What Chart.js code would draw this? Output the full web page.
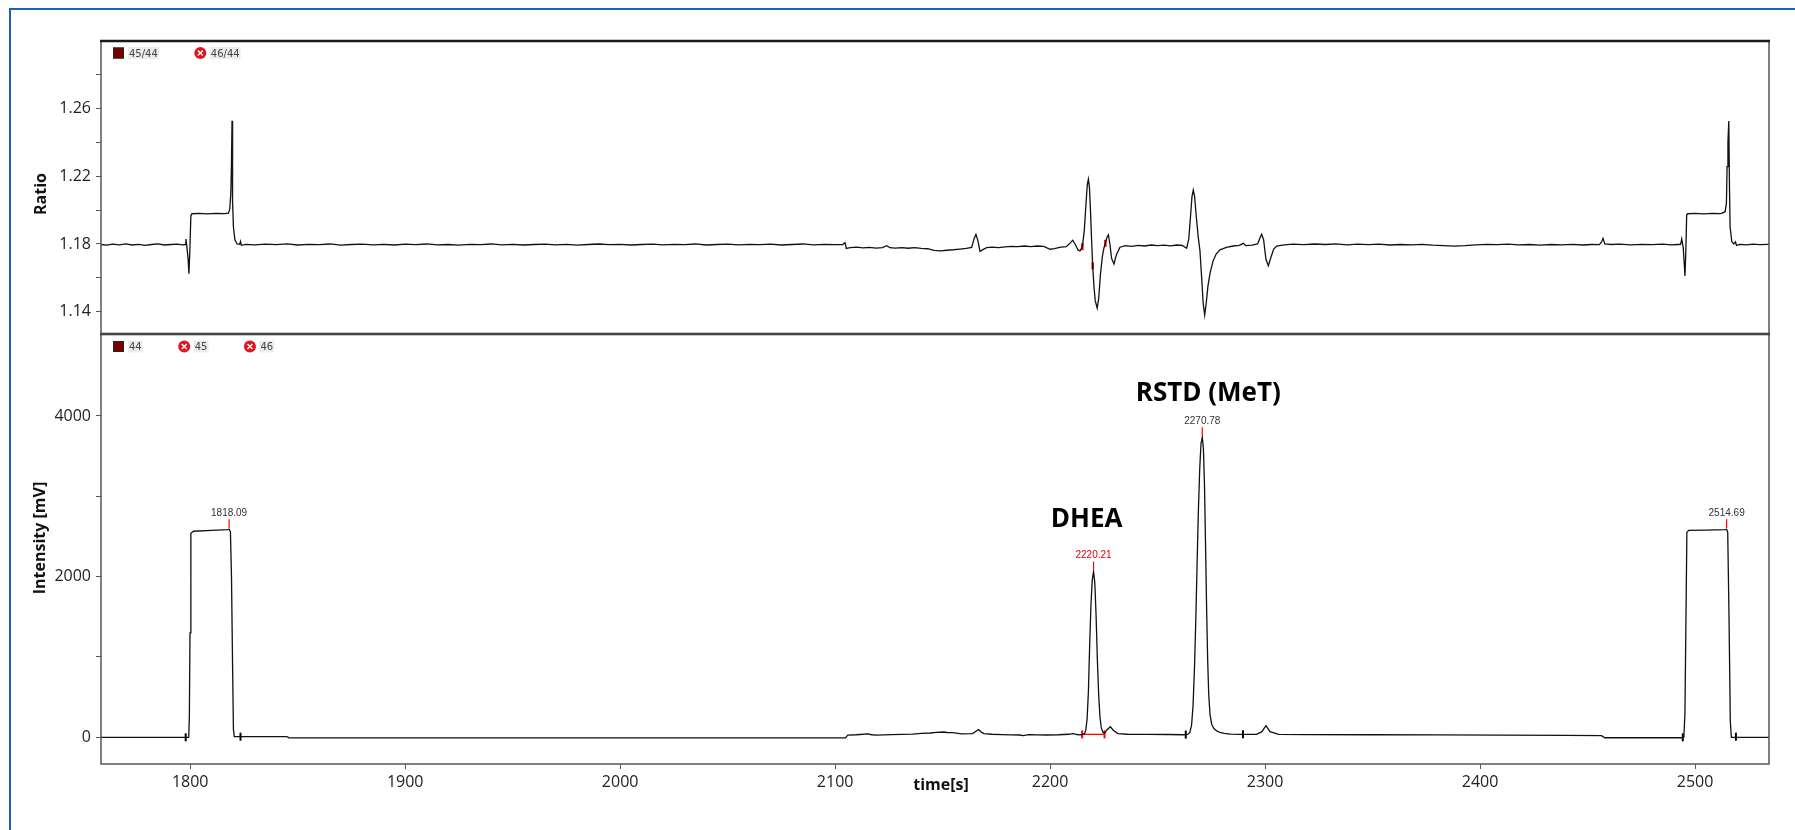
<!DOCTYPE html>
<html>
<head>
<meta charset="utf-8">
<title>DHEA / RSTD chromatogram</title>
<script src="https://cdn.jsdelivr.net/npm/chart.js@4.4.1/dist/chart.umd.min.js"></script>
<style>
  html, body { margin: 0; padding: 0; background: #fff; }
  #wrap { position: relative; width: 1795px; height: 830px; overflow: hidden; }
  #wrap canvas { position: absolute; left: 0; top: 0; }
  #frame { position: absolute; left: 9px; top: 8px; right: -10px; bottom: -10px;
           border-left: 2px solid #1f5fb8; border-top: 2px solid #1f5fb8; }
</style>
</head>
<body>
<div id="wrap">
  <div id="frame"></div>
  <canvas id="intensityChart" width="1795" height="830"></canvas>
  <canvas id="ratioChart" width="1795" height="830"></canvas>
</div>
<script>
// shared time axis [s]
const timeMin = 1758.5;
const timeMax = 2534.4;
const timeTicks = [1800, 1900, 2000, 2100, 2200, 2300, 2400, 2500];
const timeTickLabels = ['1800', '1900', '2000', '2100', '2200', '2300', '2400', '2500'];

// upper panel: isotope ratio
const ratioSeries = ['45/44', '46/44'];
const ratioTicks = [1.14, 1.16, 1.18, 1.20, 1.22, 1.24, 1.26, 1.28];
const ratioTickLabels = ['1.14', '', '1.18', '', '1.22', '', '1.26', ''];

const ratioTime = [
  1758.5, 1761, 1764, 1767, 1770, 1773, 1776, 1779, 1782, 1785, 1788, 1791, 1794, 1796.5,
  1797.6, 1798.0, 1798.4, 1799.0, 1799.4, 1799.8, 1800.3, 1800.8, 1804, 1808, 1812, 1816,
  1817.8, 1818.4, 1818.9, 1819.2, 1819.45, 1819.7, 1820.1, 1820.8, 1821.8, 1823.0, 1823.4, 1823.8, 1826,
  1830, 1835, 1840, 1845, 1850, 1855, 1860, 1865, 1870, 1875, 1880, 1885, 1890, 1895,
  1900, 1905, 1910, 1915, 1920, 1925, 1930, 1935, 1940, 1945, 1950, 1955, 1960, 1965,
  1970, 1975, 1980, 1985, 1990, 1995, 2000, 2005, 2010, 2015, 2020, 2025, 2030, 2035,
  2040, 2045, 2050, 2055, 2060, 2065, 2070, 2075, 2080, 2085, 2090, 2095, 2100, 2103.5,
  2104.6, 2105.2, 2107, 2110, 2113, 2116, 2119, 2122, 2124, 2125.5, 2128, 2131, 2134, 2137,
  2140, 2143, 2146, 2149, 2152, 2155, 2158, 2161, 2163.5, 2164.6, 2165.5, 2166.4, 2167.4,
  2168.5, 2170.5, 2173, 2176, 2179, 2182, 2185, 2188, 2191, 2194, 2197, 2200, 2202, 2205,
  2207.5, 2209.5, 2210.5, 2211.6, 2213.0, 2213.9,
  2215.0, 2215.9, 2216.7, 2217.3, 2217.8, 2218.3, 2218.8, 2219.3, 2219.8, 2220.4, 2221.0,
  2221.9, 2222.6, 2223.4, 2224.3, 2225.0, 2225.7, 2226.4, 2227.1, 2227.8, 2228.6, 2229.7,
  2230.8, 2232.5, 2235, 2238, 2241, 2244, 2247, 2250, 2253, 2256, 2259, 2261.5, 2263.5,
  2264.5, 2265.3, 2266.0, 2266.6, 2267.2, 2268.0, 2268.9, 2269.7, 2270.5, 2271.2, 2271.9,
  2272.6, 2273.4, 2274.4, 2275.8, 2277.3, 2279.0, 2282, 2285.2, 2288, 2289.9, 2291, 2294,
  2296.5, 2297.6, 2298.4, 2299.3, 2300.4, 2301.5, 2302.8, 2304, 2305.4, 2309, 2313,
  2318, 2323, 2328, 2333, 2338, 2343, 2348, 2353, 2358, 2363, 2368, 2373, 2378, 2383,
  2388, 2393, 2398, 2403, 2408, 2413, 2418, 2423, 2428, 2433, 2438, 2443, 2448, 2452,
  2455.5, 2456.5, 2457.2, 2458.0, 2461, 2465, 2470, 2475, 2480, 2485, 2489, 2492,
  2493.3, 2493.8, 2494.5, 2495.0, 2495.3, 2495.7, 2496.1, 2496.6, 2500, 2504, 2508, 2512,
  2514.0, 2514.6, 2514.9, 2515.3, 2515.7, 2516.0, 2516.3, 2517.1, 2518, 2518.8, 2519.3,
  2521, 2524, 2527, 2530, 2534.4
];
const ratioValue = [
  1.1797, 1.1793, 1.1799, 1.1795, 1.1800, 1.1794, 1.1798, 1.1792, 1.1797, 1.1800, 1.1794, 1.1797, 1.1799, 1.1795,
  1.1797, 1.1829, 1.1790, 1.1715, 1.1625, 1.1750, 1.1965, 1.1978, 1.1980, 1.1977, 1.1980, 1.1979,
  1.1982, 1.2005, 1.2100, 1.2275, 1.2525, 1.2050, 1.1900, 1.1824, 1.1800, 1.1798, 1.1815, 1.1792, 1.1798,
  1.1795, 1.1799, 1.1796, 1.1801, 1.1794, 1.1798, 1.1796, 1.1800, 1.1793, 1.1797, 1.1799, 1.1795, 1.1798, 1.1794,
  1.1799, 1.1796, 1.1800, 1.1795, 1.1797, 1.1793, 1.1798, 1.1796, 1.1800, 1.1795, 1.1798, 1.1794, 1.1797, 1.1799,
  1.1795, 1.1798, 1.1793, 1.1797, 1.1800, 1.1796, 1.1798, 1.1794, 1.1797, 1.1799, 1.1795, 1.1798, 1.1796, 1.1800,
  1.1794, 1.1797, 1.1799, 1.1795, 1.1798, 1.1796, 1.1799, 1.1794, 1.1797, 1.1800, 1.1795, 1.1798, 1.1796, 1.1797,
  1.1808, 1.1774, 1.1778, 1.1781, 1.1777, 1.1780, 1.1776, 1.1779, 1.1790, 1.1778, 1.1776, 1.1779, 1.1775, 1.1778,
  1.1774, 1.1772, 1.1762, 1.1759, 1.1763, 1.1766, 1.1770, 1.1774, 1.1780, 1.1830, 1.1857, 1.1820, 1.1756,
  1.1765, 1.1778, 1.1781, 1.1779, 1.1783, 1.1786, 1.1784, 1.1788, 1.1785, 1.1788, 1.1786, 1.1769, 1.1772, 1.1781,
  1.1784, 1.1808, 1.1822, 1.1800, 1.1765, 1.1759,
  1.1784, 1.1880, 1.2040, 1.2150, 1.2182, 1.2130, 1.1990, 1.1820, 1.1671, 1.1550, 1.1465,
  1.1422, 1.1480, 1.1620, 1.1725, 1.1775, 1.1804, 1.1838, 1.1853, 1.1800, 1.1715, 1.1682,
  1.1735, 1.1781, 1.1790, 1.1786, 1.1792, 1.1788, 1.1794, 1.1790, 1.1793, 1.1789, 1.1794, 1.1791, 1.1775,
  1.1830, 1.1960, 1.2080, 1.2118, 1.2080, 1.1960, 1.1840, 1.1760, 1.1600, 1.1450, 1.1382,
  1.1450, 1.1550, 1.1628, 1.1700, 1.1742, 1.1765, 1.1780, 1.1788, 1.1792, 1.1804, 1.1790, 1.1793,
  1.1800, 1.1835, 1.1857, 1.1825, 1.1710, 1.1672, 1.1725, 1.1770, 1.1788, 1.1795, 1.1799,
  1.1796, 1.1800, 1.1797, 1.1801, 1.1795, 1.1799, 1.1796, 1.1799, 1.1794, 1.1797, 1.1795, 1.1798, 1.1793, 1.1790,
  1.1787, 1.1790, 1.1795, 1.1798, 1.1796, 1.1799, 1.1795, 1.1797, 1.1793, 1.1797, 1.1795, 1.1798, 1.1794, 1.1797,
  1.1796, 1.1812, 1.1833, 1.1800, 1.1797, 1.1799, 1.1795, 1.1798, 1.1796, 1.1799, 1.1795, 1.1797,
  1.1798, 1.1829, 1.1780, 1.1680, 1.1612, 1.1750, 1.1970, 1.1978, 1.1980, 1.1977, 1.1980, 1.1979,
  1.1990, 1.2040, 1.2255, 1.2400, 1.2524, 1.2150, 1.1900, 1.1814, 1.1800, 1.1812, 1.1792,
  1.1798, 1.1795, 1.1799, 1.1796, 1.1798
];
// red peak-detection marks on the ratio trace
const ratioMarkTime = [2215.0, 2219.8, 2225.7];

// lower panel: m/z 44 intensity [mV]
const intensitySeries = ['44', '45', '46'];
const intensityTicks = [0, 1000, 2000, 3000, 4000];
const intensityTickLabels = ['0', '', '2000', '', '4000'];

const intensityTime = [
  1758.5, 1797.0, 1799.3, 1799.6, 1799.9, 1800.3, 1801.5, 1810, 1817.5, 1818.09, 1818.7, 1819.2,
  1819.7, 1820.1, 1820.5, 1822, 1845, 1846, 2104.8, 2105.9, 2110, 2115.2, 2117, 2119.4, 2126,
  2136.0, 2140, 2144.3, 2147, 2150.5, 2152, 2154.7, 2158.8, 2164.0, 2165.5, 2166.7, 2168, 2169.2,
  2173, 2177.5, 2182, 2185.8, 2187.5, 2190.0, 2194, 2198.3, 2204, 2208.5, 2210.7, 2212.5, 2213.8,
  2215.0, 2216.0, 2216.6, 2217.2, 2217.8, 2218.4, 2219.0, 2219.6, 2220.21, 2220.8, 2221.4, 2222.0,
  2222.6, 2223.2, 2223.8, 2224.5, 2225.3, 2226.5, 2228.0, 2229.5, 2231.5, 2236, 2245, 2255, 2262,
  2264.0, 2265.0, 2265.8, 2266.5, 2267.2, 2267.8, 2268.4, 2269.0, 2269.6, 2270.2, 2270.78, 2271.3,
  2271.8, 2272.3, 2272.8, 2273.3, 2273.8, 2274.4, 2275.2, 2276.2, 2277.5, 2279.0, 2281.0, 2284.0,
  2288, 2296, 2298.5, 2300.4, 2302.3, 2306.3, 2320, 2350, 2380, 2410, 2440, 2456.5, 2458,
  2494.0, 2494.8, 2495.3, 2495.7, 2496.2, 2497, 2505, 2514.0, 2514.69, 2515.2, 2515.8, 2516.4,
  2516.9, 2534.4
];
const intensityValue = [
  0, 0, 0, 250, 1300, 2540, 2565, 2575, 2585, 2590, 2560, 2000,
  900, 100, 10, 8, 8, -6, -6, 28, 32, 43, 32, 28, 33,
  41, 48, 54, 62, 66, 60, 58, 42, 46, 75, 96, 65, 46,
  38, 33, 30, 29, 21, 33, 31, 29, 32, 38, 46, 35, 30,
  35, 45, 90, 230, 560, 1150, 1650, 1960, 2062, 1920, 1500, 950,
  520, 250, 120, 65, 50, 95, 132, 85, 46, 38, 36, 35, 32,
  36, 60, 150, 400, 900, 1500, 2200, 2850, 3350, 3660, 3735, 3600,
  3150, 2400, 1600, 950, 520, 280, 160, 110, 80, 60, 48, 40,
  36, 37, 70, 145, 70, 37, 34, 32, 30, 27, 24, 20, -5,
  -5, 0, 300, 1300, 2550, 2575, 2580, 2585, 2590, 2550, 1500, 200,
  0, 0
];

// labelled apexes
const peakTime = [1818.09, 2220.21, 2270.78, 2514.69];
const peakLabel = ['1818.09', '2220.21', '2270.78', '2514.69'];
const peakLabelColor = ['#333', '#e00000', '#333', '#333'];

// compounds named above their peaks
const compoundName = ['DHEA', 'RSTD (MeT)'];
const compoundPeak = [2220.21, 2270.78];

// integration limits
const boundTime = [1797.9, 1823.4, 2263.1, 2289.7, 2494.3, 2519.0];
const boundLevel = [0, 8, 34, 38, 0, 8];
const dheaBoundTime = [2214.9, 2225.3];
const dheaBoundLevel = [37, 37];

const toPoints = (xs, ys) => xs.map((x, i) => ({ x: x, y: ys[i] }));

function drawFrame(ctx, a) {
  ctx.save();
  ctx.strokeStyle = '#555';
  ctx.lineWidth = 1.5;
  ctx.strokeRect(a.left, a.top, a.right - a.left, a.bottom - a.top);
  ctx.strokeStyle = '#1a1a1a';
  ctx.lineWidth = 2.5;
  ctx.beginPath();
  ctx.moveTo(a.left - 1, a.top);
  ctx.lineTo(a.right + 1, a.top);
  ctx.stroke();
  ctx.restore();
}

// legend row: first trace a dark red square, the others red badges with a white cross
function drawLegend(ctx, x, y, names) {
  ctx.save();
  ctx.font = '10px "DejaVu Sans"';
  ctx.textBaseline = 'middle';
  names.forEach((name, i) => {
    if (i === 0) {
      ctx.fillStyle = '#7a0000';
      ctx.fillRect(x, y - 5.5, 11, 11);
      ctx.strokeStyle = '#222';
      ctx.lineWidth = 1;
      ctx.strokeRect(x + 0.5, y - 5, 10, 10);
    } else {
      ctx.fillStyle = '#e3141b';
      ctx.beginPath();
      ctx.arc(x + 5.5, y, 6, 0, Math.PI * 2);
      ctx.fill();
      ctx.strokeStyle = '#fff';
      ctx.lineWidth = 1.4;
      ctx.beginPath();
      ctx.moveTo(x + 3, y - 2.5); ctx.lineTo(x + 8, y + 2.5);
      ctx.moveTo(x + 8, y - 2.5); ctx.lineTo(x + 3, y + 2.5);
      ctx.stroke();
    }
    const tx = x + 16;
    const w = ctx.measureText(name).width;
    ctx.fillStyle = '#ececec';
    ctx.fillRect(tx - 1, y - 6, w + 2, 12);
    ctx.fillStyle = '#444';
    ctx.fillText(name, tx, y + 1);
    x = tx + w + 37;
  });
  ctx.restore();
}

function drawVerticalTitle(ctx, text, x, y) {
  ctx.save();
  ctx.translate(x, y);
  ctx.rotate(-Math.PI / 2);
  ctx.font = 'bold 16px "Open Sans"';
  ctx.fillStyle = '#111';
  ctx.textAlign = 'center';
  ctx.textBaseline = 'middle';
  ctx.fillText(text, 0, 0);
  ctx.restore();
}

const ratioOverlay = {
  id: 'ratioOverlay',
  afterDraw(chart) {
    const ctx = chart.ctx;
    drawFrame(ctx, chart.chartArea);
    drawLegend(ctx, chart.chartArea.left + 12, 53, ratioSeries);
    drawVerticalTitle(ctx, 'Ratio', 41, 194);
  }
};

const intensityOverlay = {
  id: 'intensityOverlay',
  afterDraw(chart) {
    const ctx = chart.ctx;
    const xs = chart.scales.x;
    const ys = chart.scales.y;
    drawFrame(ctx, chart.chartArea);
    drawLegend(ctx, chart.chartArea.left + 12, 346.5, intensitySeries);
    drawVerticalTitle(ctx, 'Intensity [mV]', 40, 538);

    ctx.save();
    ctx.font = 'bold 16px "Open Sans"';
    ctx.fillStyle = '#111';
    ctx.textAlign = 'center';
    ctx.textBaseline = 'middle';
    // axis name sits on the tick-label row, between 2100 and 2200
    ctx.fillText('time[s]', 941, 785);

    // apex marks with retention times
    ctx.font = '10px "Liberation Sans"';
    peakTime.forEach((t, i) => {
      const px = xs.getPixelForValue(t);
      const py = ys.getPixelForValue(intensityValue[intensityTime.indexOf(t)]);
      ctx.strokeStyle = '#ff0000';
      ctx.lineWidth = 1.2;
      ctx.beginPath();
      ctx.moveTo(px, py - 1);
      ctx.lineTo(px, py - 10);
      ctx.stroke();
      ctx.fillStyle = peakLabelColor[i];
      ctx.fillText(peakLabel[i], px, py - 16);
    });

    // compound names
    ctx.font = 'bold 26px "Open Sans"';
    ctx.fillStyle = '#000';
    compoundName.forEach((name, i) => {
      const t = compoundPeak[i];
      const px = xs.getPixelForValue(t);
      const py = ys.getPixelForValue(intensityValue[intensityTime.indexOf(t)]);
      if (i === 0) ctx.fillText(name, px - 7, py - 52);
      else ctx.fillText(name, px + 6, py - 44);
    });
    ctx.restore();
  }
};

const tickFont = { family: 'Open Sans', size: 16 };

new Chart(document.getElementById('ratioChart'), {
  type: 'line',
  data: {
    datasets: [
      {
        data: toPoints(ratioTime, ratioValue),
        borderColor: '#111',
        borderWidth: 1.3,
        pointRadius: 0,
        tension: 0
      },
      {
        data: toPoints(ratioMarkTime, ratioMarkTime.map(t => ratioValue[ratioTime.indexOf(t)])),
        showLine: false,
        pointStyle: 'line',
        pointRotation: 90,
        pointRadius: 3.5,
        pointBorderWidth: 2.5,
        pointBorderColor: '#ff0000'
      }
    ]
  },
  options: {
    responsive: false,
    animation: false,
    events: [],
    layout: { padding: { top: 41, right: 26, bottom: 496, left: 0 } },
    plugins: { legend: { display: false }, tooltip: { enabled: false } },
    scales: {
      x: { type: 'linear', min: timeMin, max: timeMax, display: false },
      y: {
        min: 1.127,
        max: 1.2995,
        afterFit(scale) { scale.width = 101; },
        afterBuildTicks(scale) { scale.ticks = ratioTicks.map(v => ({ value: v })); },
        ticks: {
          autoSkip: false,
          padding: 5,
          color: '#222',
          font: tickFont,
          callback: (v, i) => ratioTickLabels[i]
        },
        grid: { drawOnChartArea: false, tickLength: 5, color: '#555' },
        border: { display: false }
      }
    }
  },
  plugins: [ratioOverlay]
});

new Chart(document.getElementById('intensityChart'), {
  type: 'line',
  data: {
    datasets: [
      {
        data: toPoints(intensityTime, intensityValue),
        borderColor: '#111',
        borderWidth: 1.3,
        pointRadius: 0,
        tension: 0
      },
      {
        data: toPoints(dheaBoundTime, dheaBoundLevel),
        borderColor: '#ff0000',
        borderWidth: 1.3,
        pointStyle: 'line',
        pointRotation: 90,
        pointRadius: 4,
        pointBorderWidth: 2,
        pointBorderColor: '#ff0000',
        tension: 0
      },
      {
        data: toPoints(boundTime, boundLevel),
        showLine: false,
        pointStyle: 'line',
        pointRotation: 90,
        pointRadius: 4,
        pointBorderWidth: 2,
        pointBorderColor: '#000'
      }
    ]
  },
  options: {
    responsive: false,
    animation: false,
    events: [],
    layout: { padding: { top: 334, right: 26, bottom: 0, left: 0 } },
    plugins: { legend: { display: false }, tooltip: { enabled: false } },
    scales: {
      x: {
        type: 'linear',
        min: timeMin,
        max: timeMax,
        afterFit(scale) { scale.height = 66; },
        afterBuildTicks(scale) { scale.ticks = timeTicks.map(v => ({ value: v })); },
        ticks: {
          autoSkip: false,
          maxRotation: 0,
          padding: 4,
          color: '#222',
          font: tickFont,
          callback: (v, i) => timeTickLabels[i]
        },
        grid: { drawOnChartArea: false, tickLength: 5, color: '#555' },
        border: { display: false }
      },
      y: {
        min: -332,
        max: 5020,
        afterFit(scale) { scale.width = 101; },
        afterBuildTicks(scale) { scale.ticks = intensityTicks.map(v => ({ value: v })); },
        ticks: {
          autoSkip: false,
          padding: 5,
          color: '#222',
          font: tickFont,
          callback: (v, i) => intensityTickLabels[i]
        },
        grid: { drawOnChartArea: false, tickLength: 5, color: '#555' },
        border: { display: false }
      }
    }
  },
  plugins: [intensityOverlay]
});
</script>
</body>
</html>
